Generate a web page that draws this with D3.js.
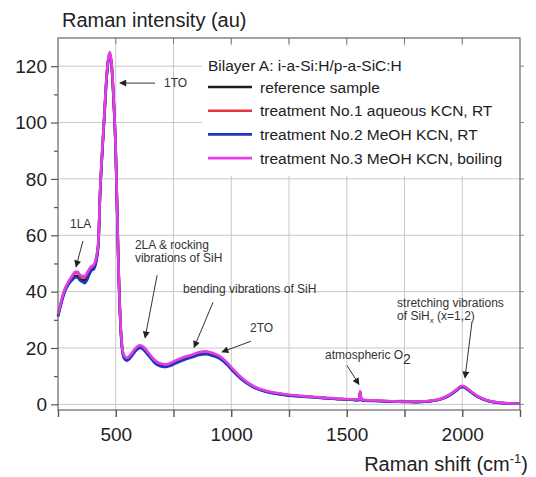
<!DOCTYPE html>
<html lang="en">
<head>
<meta charset="UTF-8">
<title>Raman spectra</title>
<script src="https://d3js.org/d3.v7.min.js"></script>
<style>
  body { margin: 0; background: #fff; font-family: 'Liberation Sans', Arial, sans-serif; }
  svg { display: block; }
  .grid line { stroke: #c8c8c8; stroke-width: 1; }
  .tick-lbl { font-size: 19px; fill: #222; }
  .note { font-size: 12px; fill: #333; }
  .leg { font-size: 15.5px; fill: #222; }
</style>
</head>
<body>
<script>
// Raman shift (cm-1)
const shifts = [
  250, 265, 280, 295, 310, 325, 335, 345, 355, 365,
  375, 385, 395, 405, 415, 425, 432, 440, 450, 460,
  468, 475, 482, 490, 500, 506, 511, 516, 521, 527,
  535, 548, 560, 575, 590, 605, 620, 635, 650, 665,
  680, 700, 720, 740, 760, 780, 800, 830, 860, 890,
  920, 950, 980, 1010, 1040, 1070, 1100, 1150, 1200, 1250,
  1300, 1350, 1400, 1450, 1500, 1540, 1553, 1558, 1563, 1580,
  1620, 1680, 1740, 1800, 1850, 1900, 1930, 1960, 1980, 1995,
  2005, 2020, 2040, 2060, 2090, 2120, 2160, 2200, 2250
];

const referenceSample = [
  31.5, 36.5, 40.5, 43, 44.5, 45.5, 45.5, 44.5, 44, 44,
  44.8, 46.5, 48, 48.5, 51, 57.5, 74.5, 87.5, 101.5, 115.5,
  122.5, 124, 120.5, 109.5, 89.5, 69.5, 51.5, 37.5, 27.5, 20.5,
  17, 16, 16.7, 18.3, 19.8, 20.5, 19.9, 18.5, 17, 15.5,
  14.5, 13.9, 13.7, 14.3, 15.1, 15.8, 16.4, 17.1, 18, 18.3,
  17.7, 16.6, 14.6, 11.9, 9.5, 7.5, 6.1, 4.6, 3.8, 3.2,
  2.9, 2.6, 2.3, 2.0, 1.8, 1.6, 1.6, 4.4, 1.6, 1.4,
  1.3, 1.1, 0.9, 0.9, 1.1, 1.7, 2.6, 4.1, 5.4, 6.3,
  6.3, 5.6, 4.3, 3.1, 1.9, 1.1, 0.6, 0.3, 0.2
];

const treatment1 = [
  31.8, 36.8, 40.8, 43.3, 45.2, 46.6, 46.6, 45.6, 45, 45,
  46, 47.5, 48.6, 49.1, 51.6, 57.8, 74.8, 87.8, 101.8, 115.8,
  122.8, 124.6, 120.8, 109.8, 89.8, 69.8, 51.8, 37.8, 27.8, 20.8,
  17.3, 16.3, 17, 18.6, 20.1, 20.8, 20.2, 18.8, 17.2, 15.8,
  14.8, 14.2, 14, 14.6, 15.4, 16.1, 16.7, 17.4, 18.3, 18.6,
  18, 16.9, 14.8, 12.1, 9.7, 7.7, 6.2, 4.7, 3.9, 3.3,
  2.9, 2.6, 2.3, 2.0, 1.8, 1.6, 1.6, 4.5, 1.6, 1.4,
  1.3, 1.1, 1.0, 0.9, 1.1, 1.7, 2.7, 4.2, 5.5, 6.4,
  6.4, 5.7, 4.4, 3.2, 1.9, 1.1, 0.6, 0.4, 0.3
];

const treatment2 = [
  31, 36, 40, 42.5, 44, 45, 45, 44, 43.5, 43,
  44, 46, 47.5, 48, 50.5, 57, 74, 87, 101, 115,
  122, 123.5, 120, 109, 89, 69, 51, 37, 27, 20,
  16.5, 15.5, 16.2, 17.8, 19.3, 20, 19.4, 18, 16.5, 15,
  14, 13.4, 13.3, 13.8, 14.6, 15.3, 15.9, 16.7, 17.5, 17.8,
  17.2, 16.2, 14.2, 11.5, 9.2, 7.3, 5.9, 4.5, 3.7, 3.1,
  2.8, 2.5, 2.2, 1.9, 1.7, 1.5, 1.5, 4.2, 1.5, 1.3,
  1.2, 1.0, 1.2, 0.8, 1.0, 1.6, 2.5, 4.0, 5.2, 6.1,
  6.1, 5.4, 4.2, 3.0, 1.8, 1.0, 0.5, 0.3, 0.2
];

const treatment3 = [
  32, 37, 41, 43.5, 45.5, 47, 47, 46, 45.5, 45.5,
  46.5, 48, 49, 49.5, 52, 58, 75, 88, 102, 116,
  123, 125, 121, 110, 90, 70, 52, 38, 28, 21,
  17.5, 16.5, 17.2, 18.8, 20.3, 21, 20.4, 19, 17.4, 16,
  15, 14.4, 14.2, 14.8, 15.6, 16.3, 16.9, 17.6, 18.5, 18.8,
  18.2, 17.1, 15, 12.3, 9.8, 7.8, 6.3, 4.8, 4.0, 3.4,
  3.0, 2.7, 2.4, 2.1, 1.9, 1.7, 1.7, 4.6, 1.7, 1.5,
  1.4, 1.2, 1.0, 1.0, 1.2, 1.8, 2.8, 4.3, 5.6, 6.5,
  6.5, 5.8, 4.5, 3.3, 2.0, 1.2, 0.7, 0.4, 0.3
];

const seriesNames = [
  "reference sample",
  "treatment No.1 aqueous KCN, RT",
  "treatment No.2 MeOH KCN, RT",
  "treatment No.3 MeOH KCN, boiling"
];
const seriesColors = ["#1e1e1e", "#e8343c", "#2233c4", "#e23ee6"];
const seriesValues = [referenceSample, treatment1, treatment2, treatment3];

const xTicks = [500, 1000, 1500, 2000];
const yTicks = [0, 20, 40, 60, 80, 100, 120];

// annotations in data units: text position, arrow from -> to
const notes = [
  { lines: ["1TO"], tx: 709, ty: 114, ax1: 670, ay1: 114, ax2: 518, ay2: 114 },
  { lines: ["1LA"], tx: 302, ty: 64, ax1: 358, ay1: 58, ax2: 328, ay2: 48.8 },
  { lines: ["2LA & rocking", "vibrations of SiH"], tx: 583, ty: 56.4, ax1: 679, ay1: 45.8, ax2: 627, ay2: 23.6 },
  { lines: ["bending vibrations of SiH"], tx: 791, ty: 40.8, ax1: 921, ay1: 36.2, ax2: 839, ay2: 20.2 },
  { lines: ["2TO"], tx: 1081, ty: 27, ax1: 1085, ay1: 22.4, ax2: 960, ay2: 18.6 },
  { lines: ["atmospheric O"], sub: "2", tx: 1406, ty: 17.4, ax1: 1501, ay1: 13.8, ax2: 1553, ay2: 7.1 },
  { lines: ["stretching vibrations", "of SiH"], subx: "x", tail: " (x=1,2)", tx: 1718, ty: 35.9, ax1: 2042, ay1: 29.1, ax2: 2012, ay2: 9.4 }
];

const width = 536, height = 477;
const margin = { top: 38, right: 16, bottom: 67, left: 58 };
const plotW = width - margin.left - margin.right;
const plotH = height - margin.top - margin.bottom;

const svg = d3.select("body").append("svg")
  .attr("width", width)
  .attr("height", height);

const x = d3.scaleLinear().domain([250, 2250]).range([margin.left, margin.left + plotW]);
const y = d3.scaleLinear().domain([-2, 130]).range([margin.top + plotH, margin.top]);

// gridlines
const grid = svg.append("g").attr("class", "grid");
grid.selectAll(".gx").data(d3.range(500, 2250, 250)).enter().append("line")
  .attr("x1", d => x(d)).attr("x2", d => x(d))
  .attr("y1", margin.top).attr("y2", margin.top + plotH);
grid.selectAll(".gy").data(yTicks).enter().append("line")
  .attr("x1", margin.left).attr("x2", margin.left + plotW)
  .attr("y1", d => y(d)).attr("y2", d => y(d));

// legend background sits on top of the grid
const legX = 202, legY = 46;
svg.append("rect")
  .attr("x", legX).attr("y", legY)
  .attr("width", margin.left + plotW - legX - 1).attr("height", 130)
  .attr("fill", "#fff");

// spectra
const line = d3.line()
  .x((d, i) => x(shifts[i]))
  .y(d => y(d))
  .curve(d3.curveMonotoneX);

const plotArea = svg.append("g");
seriesValues.forEach((vals, k) => {
  plotArea.append("path")
    .datum(vals)
    .attr("fill", "none")
    .attr("stroke", seriesColors[k])
    .attr("stroke-width", 2.6)
    .attr("stroke-linejoin", "round")
    .attr("d", line);
});

// frame
svg.append("rect")
  .attr("x", margin.left).attr("y", margin.top)
  .attr("width", plotW).attr("height", plotH)
  .attr("fill", "none").attr("stroke", "#666").attr("stroke-width", 1.2);

// bottom axis ticks + labels
const xAxis = d3.axisBottom(x)
  .tickValues(d3.range(250, 2251, 250))
  .tickSize(7)
  .tickFormat(d => xTicks.includes(d) ? d : "");
const gx = svg.append("g")
  .attr("transform", `translate(0,${margin.top + plotH})`)
  .call(xAxis);
gx.select(".domain").remove();
gx.selectAll(".tick line").attr("stroke", "#555").attr("stroke-width", 1.4);
gx.selectAll(".tick text").attr("class", "tick-lbl").attr("dy", "1.1em")
  .attr("font-family", "'Liberation Sans', Arial, sans-serif");

// left axis ticks + labels
const yAxis = d3.axisLeft(y)
  .tickValues(d3.range(0, 130, 10))
  .tickSize(7)
  .tickFormat(d => yTicks.includes(d) ? d : "");
const gy = svg.append("g")
  .attr("transform", `translate(${margin.left},0)`)
  .call(yAxis);
gy.select(".domain").remove();
gy.selectAll(".tick line").attr("stroke", "#555").attr("stroke-width", 1.2)
  .attr("x2", d => yTicks.includes(d) ? -7 : -4);
gy.selectAll(".tick text").attr("class", "tick-lbl").attr("x", -11)
  .attr("font-family", "'Liberation Sans', Arial, sans-serif");

// top & right minor ticks
svg.append("g").selectAll("line").data(d3.range(500, 2250, 250)).enter().append("line")
  .attr("x1", d => x(d)).attr("x2", d => x(d))
  .attr("y1", margin.top).attr("y2", margin.top + 6)
  .attr("stroke", "#777");
svg.append("g").selectAll("line").data(yTicks).enter().append("line")
  .attr("x1", margin.left + plotW).attr("x2", margin.left + plotW + 4)
  .attr("y1", d => y(d)).attr("y2", d => y(d))
  .attr("stroke", "#888");

// legend
svg.append("text").attr("class", "leg")
  .attr("x", 208).attr("y", 71)
  .text("Bilayer A: i-a-Si:H/p-a-SiC:H");
seriesNames.forEach((name, k) => {
  const ly = 87 + k * 23.7;
  svg.append("line")
    .attr("x1", 208).attr("x2", 252)
    .attr("y1", ly).attr("y2", ly)
    .attr("stroke", seriesColors[k]).attr("stroke-width", 2.6);
  svg.append("text").attr("class", "leg")
    .attr("x", 260).attr("y", ly + 5.5)
    .text(name);
});

// arrowhead
svg.append("defs").append("marker")
  .attr("id", "head")
  .attr("viewBox", "0 0 10 10")
  .attr("refX", 9).attr("refY", 5)
  .attr("markerWidth", 9).attr("markerHeight", 7)
  .attr("markerUnits", "userSpaceOnUse")
  .attr("orient", "auto")
  .append("path").attr("d", "M0,0 L10,5 L0,10 z").attr("fill", "#222");

// annotations
notes.forEach(n => {
  svg.append("line")
    .attr("x1", x(n.ax1)).attr("y1", y(n.ay1))
    .attr("x2", x(n.ax2)).attr("y2", y(n.ay2))
    .attr("stroke", "#333").attr("stroke-width", 1)
    .attr("marker-end", "url(#head)");
  n.lines.forEach((txt, j) => {
    const t = svg.append("text").attr("class", "note")
      .attr("x", x(n.tx)).attr("y", y(n.ty) + 4 + j * 13)
      .text(txt);
    if (n.sub && j === n.lines.length - 1) {
      t.append("tspan").attr("font-size", "14px").attr("dy", 5).text(n.sub);
    }
    if (n.subx && j === n.lines.length - 1) {
      t.append("tspan").attr("font-size", "8px").attr("dy", 3).text(n.subx);
      t.append("tspan").attr("dy", -3).text(n.tail);
    }
  });
});

// axis titles
svg.append("text")
  .attr("x", 62).attr("y", 27)
  .attr("font-size", "20px").attr("fill", "#222")
  .text("Raman intensity (au)");

const xt = svg.append("text")
  .attr("x", 528).attr("y", 471)
  .attr("text-anchor", "end")
  .attr("font-size", "20px").attr("fill", "#222")
  .text("Raman shift (cm");
xt.append("tspan").attr("font-size", "13px").attr("dy", -8).text("-1");
xt.append("tspan").attr("dy", 8).text(")");
</script>
</body>
</html>
